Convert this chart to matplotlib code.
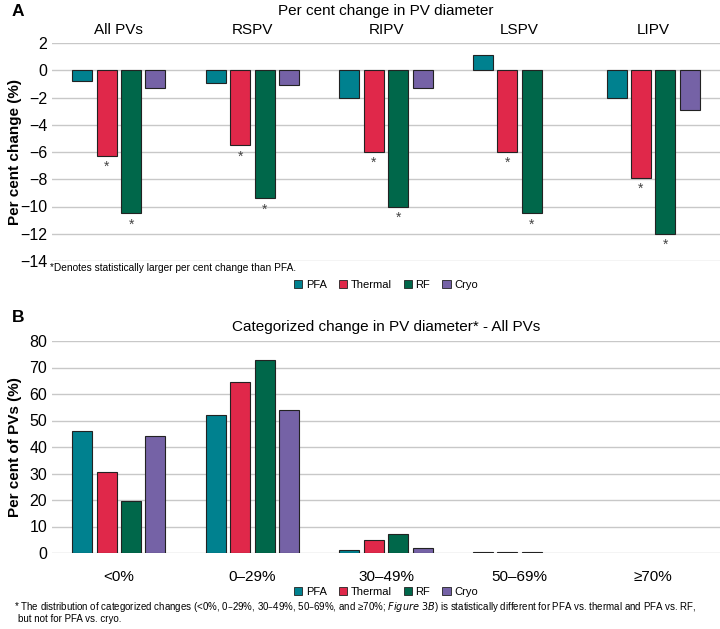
import numpy as np
import matplotlib.pyplot as plt
from matplotlib.patches import Patch

# Panel A: per cent change in PV diameter
pv_groups = ['All PVs', 'RSPV', 'RIPV', 'LSPV', 'LIPV']
pct_pfa = [-0.8, -0.9, -2.0, 1.1, -2.0]
pct_thermal = [-6.3, -5.5, -6.0, -6.0, -7.9]
pct_rf = [-10.5, -9.4, -10.0, -10.5, -12.0]
pct_cryo = [-1.3, -1.1, -1.3, 0.0, -2.9]
sig_thermal = [True, True, True, True, True]
sig_rf = [True, True, True, True, True]

# Panel B: categorized change, all PVs
cat_labels = ['<0%', '0–29%', '30–49%', '50–69%', '≥70%']
cat_pfa = [46.1, 52.0, 1.3, 0.5, 0.0]
cat_thermal = [30.6, 64.6, 4.9, 0.5, 0.0]
cat_rf = [19.6, 72.7, 7.2, 0.5, 0.0]
cat_cryo = [44.1, 54.1, 1.9, 0.0, 0.0]

names = ['PFA', 'Thermal', 'RF', 'Cryo']
colors = ['#00818f', '#e0284a', '#00674a', '#7562a6']
edge = '#222222'

plt.rcParams['font.family'] = ['Liberation Sans', 'DejaVu Sans']
narrow = ['Liberation Sans Narrow', 'Liberation Sans', 'DejaVu Sans']

fig = plt.figure(figsize=(7.2, 6.29), dpi=100)
W, H = 720, 629


def axes_px(left, top, right, bottom):
    return fig.add_axes([left / W, 1 - bottom / H, (right - left) / W, (bottom - top) / H])


step = 0.183
width = 0.15
offs = (np.arange(4) - 1.5) * step


def style(ax):
    for s in ax.spines.values():
        s.set_visible(False)
    ax.grid(axis='y', color='#c8c8c8', linewidth=1.0)
    ax.set_axisbelow(True)
    ax.tick_params(axis='both', length=0, labelsize=11.5)
    ax.set_xlim(-0.5, 4.5)


def draw_bars(ax, series):
    for k, vals in enumerate(series):
        lw = [0.8 if v != 0 else 0 for v in vals]
        ax.bar(x + offs[k], vals, width, color=colors[k], edgecolor=edge, linewidth=lw)


def legend(y):
    handles = [Patch(facecolor=c, edgecolor=edge, linewidth=0.6) for c in colors]
    fig.legend(handles, names, loc='center', bbox_to_anchor=(386 / W, 1 - y / H),
               ncol=4, frameon=False, handlelength=0.75, handleheight=0.75,
               handletextpad=0.3, columnspacing=1.1, prop={'family': narrow, 'size': 8})


x = np.arange(len(pv_groups))

# ---------- A ----------
axA = axes_px(52, 43, 720, 261)
style(axA)
draw_bars(axA, [pct_pfa, pct_thermal, pct_rf, pct_cryo])
for k, vals, sig in [(1, pct_thermal, sig_thermal), (2, pct_rf, sig_rf)]:
    for i, v in enumerate(vals):
        if sig[i]:
            axA.annotate('*', (x[i] + offs[k], v), xytext=(0, -3), textcoords='offset points',
                         ha='center', va='top', fontsize=10, color='#444444')
axA.set_ylim(-14, 2)
axA.set_yticks(np.arange(-14, 3, 2))
axA.set_yticklabels([str(t).replace('-', '\u2212') for t in range(-14, 3, 2)])
axA.xaxis.tick_top()
axA.set_xticks(x)
axA.set_xticklabels(pv_groups)
axA.tick_params(axis='x', pad=4, labelsize=11)
axA.set_ylabel('Per cent change (%)', fontsize=11, fontweight='bold')
axA.yaxis.set_label_coords(-30 / 668, 0.5)

fig.text(12 / W, 1 - 12 / H, 'A', fontsize=12.5, fontweight='bold', va='center')
fig.text(386 / W, 1 - 11 / H, 'Per cent change in PV diameter', fontsize=11, ha='center', va='center')
fig.text(50 / W, 1 - 268 / H, '*Denotes statistically larger per cent change than PFA.',
         fontsize=7.3, family=narrow, va='center')
legend(285)

# ---------- B ----------
axB = axes_px(52, 341, 720, 553)
style(axB)
draw_bars(axB, [cat_pfa, cat_thermal, cat_rf, cat_cryo])
axB.set_ylim(0, 80)
axB.set_yticks(np.arange(0, 81, 10))
axB.set_xticks(x)
axB.set_xticklabels(cat_labels)
axB.tick_params(axis='x', pad=12, labelsize=11)
axB.set_ylabel('Per cent of PVs (%)', fontsize=11, fontweight='bold')
axB.yaxis.set_label_coords(-30 / 668, 0.5)

fig.text(12 / W, 1 - 318 / H, 'B', fontsize=12.5, fontweight='bold', va='center')
fig.text(386 / W, 1 - 327 / H, 'Categorized change in PV diameter* - All PVs',
         fontsize=11, ha='center', va='center')
legend(592)

fig.text(14 / W, 1 - 607 / H,
         '* The distribution of categorized changes (<0%, 0–29%, 30–49%, 50–69%, and ≥70%; '
         '$\\it{Figure\\ 3B}$) is statistically different for PFA vs. thermal and PFA vs. RF,',
         fontsize=7, family=narrow, va='center')
fig.text(18 / W, 1 - 619 / H, 'but not for PFA vs. cryo.', fontsize=7, family=narrow, va='center')

fig.savefig('out.png', dpi=100)
